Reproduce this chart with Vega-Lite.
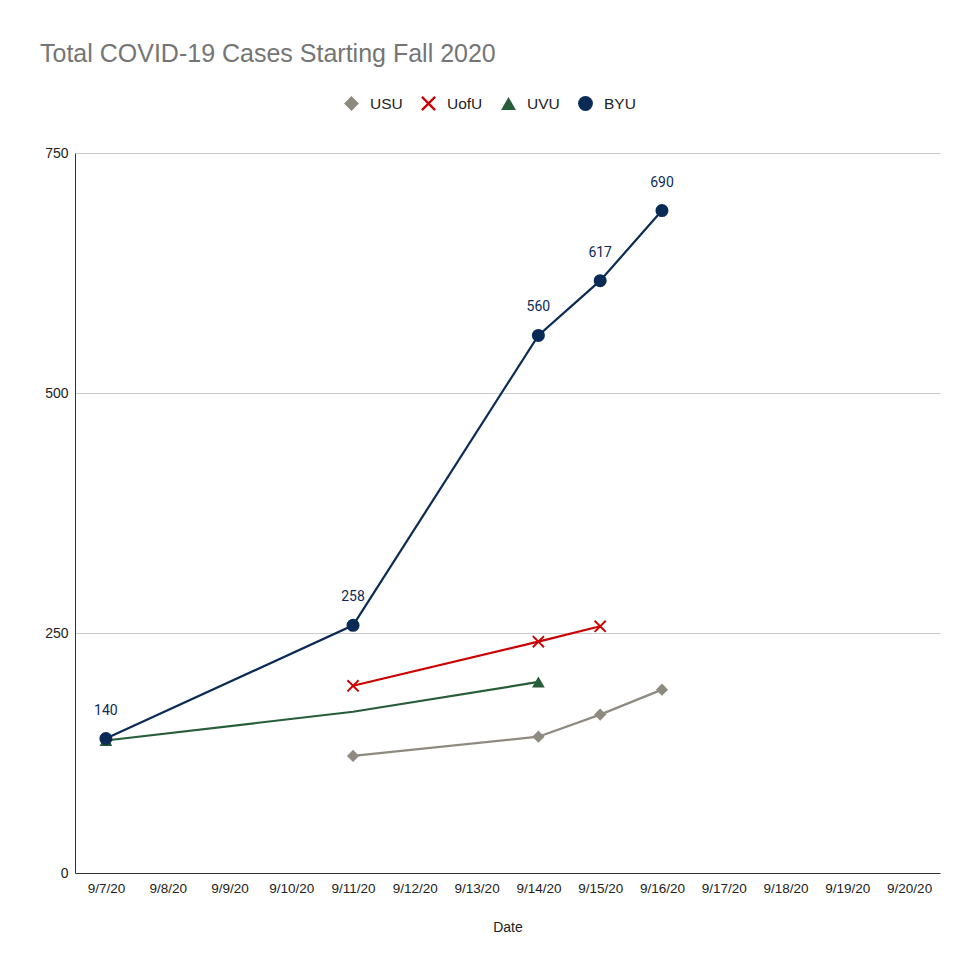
{
  "$schema": "https://vega.github.io/schema/vega-lite/v6.json",
  "autosize": "none",
  "width": 865,
  "height": 720,
  "padding": {"left": 75, "top": 153, "right": 40, "bottom": 103},
  "background": "white",
  "title": {
    "text": "Total COVID-19 Cases Starting Fall 2020",
    "anchor": "start",
    "frame": "group",
    "dx": -35,
    "offset": 28,
    "fontSize": 25,
    "font": "Liberation Sans",
    "fontWeight": "normal",
    "color": "#757575"
  },
  "config": {
    "view": {"stroke": null},
    "axis": {"labelFont": "Liberation Sans", "titleFont": "Liberation Sans", "labelColor": "#222222", "titleColor": "#222222"}
  },
  "data": {
    "values": [
      {"date": "9/11/20", "school": "USU", "cases": 122},
      {"date": "9/14/20", "school": "USU", "cases": 142},
      {"date": "9/15/20", "school": "USU", "cases": 165},
      {"date": "9/16/20", "school": "USU", "cases": 191},
      {"date": "9/11/20", "school": "UofU", "cases": 195},
      {"date": "9/14/20", "school": "UofU", "cases": 241},
      {"date": "9/15/20", "school": "UofU", "cases": 257},
      {"date": "9/7/20", "school": "UVU", "cases": 138},
      {"date": "9/11/20", "school": "UVU", "cases": 168},
      {"date": "9/14/20", "school": "UVU", "cases": 199},
      {"date": "9/7/20", "school": "BYU", "cases": 140},
      {"date": "9/11/20", "school": "BYU", "cases": 258},
      {"date": "9/14/20", "school": "BYU", "cases": 560},
      {"date": "9/15/20", "school": "BYU", "cases": 617},
      {"date": "9/16/20", "school": "BYU", "cases": 690}
    ]
  },
  "encoding": {
    "x": {
      "field": "date",
      "type": "ordinal",
      "scale": {
        "type": "point",
        "padding": 0.5,
        "domain": ["9/7/20", "9/8/20", "9/9/20", "9/10/20", "9/11/20", "9/12/20", "9/13/20", "9/14/20", "9/15/20", "9/16/20", "9/17/20", "9/18/20", "9/19/20", "9/20/20"]
      },
      "axis": {
        "title": "Date",
        "labelAngle": 0,
        "labelFontSize": 13.5,
        "titleFontSize": 14,
        "titleFontWeight": "normal",
        "titlePadding": 26,
        "ticks": false,
        "labelPadding": 8,
        "domainColor": "#333333",
        "domainWidth": 1,
        "grid": false
      }
    },
    "y": {
      "field": "cases",
      "type": "quantitative",
      "scale": {"domain": [0, 750]},
      "axis": {
        "title": null,
        "values": [0, 250, 500, 750],
        "labelFontSize": 14,
        "ticks": false,
        "labelPadding": 7,
        "domainColor": "#333333",
        "domainWidth": 1,
        "gridColor": "#cccccc",
        "gridWidth": 1
      }
    }
  },
  "resolve": {"legend": {"color": "independent", "shape": "independent"}},
  "layer": [
    {
      "mark": {"type": "line", "strokeWidth": 2.2},
      "encoding": {
        "color": {
          "field": "school",
          "type": "nominal",
          "scale": {
            "domain": ["USU", "UofU", "UVU", "BYU"],
            "range": ["#8f8a80", "#cc0000", "#275d38", "#0b2b57"]
          },
          "legend": null
        }
      }
    },
    {
      "transform": [{"filter": "!(datum.school === 'UVU' && datum.date === '9/11/20')"}],
      "mark": {"type": "point", "filled": true, "opacity": 1},
      "encoding": {
        "shape": {
          "field": "school",
          "type": "nominal",
          "scale": {
            "domain": ["USU", "UofU", "UVU", "BYU"],
            "range": ["diamond", "M-1,-0.78L-0.78,-1L0,-0.22L0.78,-1L1,-0.78L0.22,0L1,0.78L0.78,1L0,0.22L-0.78,1L-1,0.78L-0.22,0Z", "triangle-up", "circle"]
          },
          "legend": {
            "orient": "none",
            "legendX": 268,
            "legendY": -58,
            "direction": "horizontal",
            "title": null,
            "labelFont": "Liberation Sans",
            "labelFontSize": 15.5,
            "labelColor": "#222222",
            "symbolSize": 220,
            "columnPadding": 17,
            "labelOffset": 10
          }
        },
        "color": {
          "field": "school",
          "type": "nominal",
          "scale": {
            "domain": ["USU", "UofU", "UVU", "BYU"],
            "range": ["#8f8a80", "#cc0000", "#275d38", "#0b2b57"]
          },
          "legend": {
            "orient": "none",
            "legendX": 268,
            "legendY": -58,
            "direction": "horizontal",
            "title": null,
            "labelFont": "Liberation Sans",
            "labelFontSize": 15.5,
            "labelColor": "#222222",
            "symbolSize": 220,
            "columnPadding": 17,
            "labelOffset": 10
          }
        },
        "size": {
          "field": "school",
          "type": "nominal",
          "scale": {"domain": ["USU", "UofU", "UVU", "BYU"], "range": [150, 170, 200, 210]},
          "legend": null
        }
      }
    },
    {
      "transform": [{"filter": "datum.school === 'BYU'"}],
      "mark": {"type": "text", "dy": -28, "font": "Roboto", "fontSize": 14, "color": "#0b2b57"},
      "encoding": {
        "text": {"field": "cases", "type": "quantitative"}
      }
    }
  ]
}
